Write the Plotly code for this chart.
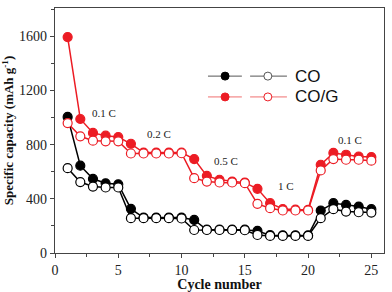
import plotly.graph_objects as go

cycles = list(range(1, 26))

co_charge = [1005, 645, 548, 515, 508, 326, 262, 262, 262, 262,
             244, 172, 172, 172, 172, 163, 132, 130, 130, 130,
             314, 368, 356, 343, 324]
co_discharge = [627, 524, 491, 484, 484, 257, 257, 257, 257, 255,
                170, 170, 170, 170, 168, 133, 126, 126, 126, 126,
                257, 324, 306, 301, 299]
cog_charge = [1595, 990, 887, 867, 857, 807, 742, 742, 742, 742,
              694, 570, 541, 528, 520, 474, 368, 325, 320, 318,
              652, 739, 726, 713, 709]
cog_discharge = [960, 862, 830, 825, 825, 735, 735, 735, 735, 737,
                 553, 528, 521, 521, 516, 363, 331, 314, 314, 314,
                 610, 694, 689, 689, 682]

rate_labels = ["0.1 C", "0.2 C", "0.5 C", "1 C", "0.1 C"]
rate_pos_x = [3.9, 8.2, 13.5, 18.25, 23.3]
rate_pos_y = [1037, 882, 682, 496, 837]

RED = "#ec1c24"
BLACK = "#000000"

fig = go.Figure()

def add(y, color, filled):
    fig.add_trace(go.Scatter(
        x=cycles, y=y, mode="lines+markers",
        line=dict(color=color, width=1.5),
        marker=dict(size=9, symbol="circle",
                    color=color if filled else "white",
                    line=dict(color=color, width=1.2)),
        showlegend=False, hoverinfo="skip"))

add(co_charge, BLACK, True)
add(co_discharge, BLACK, False)
add(cog_charge, RED, True)
add(cog_discharge, RED, False)

serif = "Liberation Serif, Times New Roman, serif"

for t, xx, yy in zip(rate_labels, rate_pos_x, rate_pos_y):
    fig.add_annotation(x=xx, y=yy, text=t, showarrow=False,
                       font=dict(family=serif, size=11, color="#222"))

# manual legend
rows = [("CO", BLACK, "#555555", 0.722), ("CO/G", RED, "#f07070", 0.637)]
for label, col, lcol, yp in rows:
    for x0, x1, xm, filled in [(0.465, 0.568, 0.517, True), (0.593, 0.705, 0.647, False)]:
        fig.add_shape(type="line", xref="paper", yref="paper",
                      x0=x0, x1=x1, y0=yp, y1=yp,
                      line=dict(color=lcol, width=1))
        fig.add_shape(type="circle", xref="paper", yref="paper",
                      xsizemode="pixel", ysizemode="pixel",
                      xanchor=xm, yanchor=yp, x0=-4, x1=4, y0=-4, y1=4,
                      fillcolor=col if filled else "white",
                      line=dict(color=col if filled else ("#555555" if col == BLACK else RED), width=1))
    fig.add_annotation(xref="paper", yref="paper", x=0.722, y=yp,
                       xanchor="left", yanchor="middle", showarrow=False,
                       text=label, font=dict(family="Liberation Sans, Arial, sans-serif",
                                             size=17, color="#111"))

axis_common = dict(
    showline=True, linecolor="#444", linewidth=1.2, mirror=True,
    ticks="outside", ticklen=4, tickcolor="#444", tickwidth=1,
    showgrid=False, zeroline=False, automargin=False,
    tickfont=dict(family=serif, size=14, color="#222"),
)

fig.update_xaxes(range=[0, 26], dtick=5, tick0=0,
                 minor=dict(dtick=2.5, ticks="outside", ticklen=3, tickcolor="#444"),
                 title=dict(text="<b>Cycle number</b>", standoff=0,
                            font=dict(family=serif, size=14, color="#111")),
                 **axis_common)
fig.update_yaxes(range=[0, 1810], dtick=400, tick0=0,
                 minor=dict(dtick=200, ticks="outside", ticklen=3, tickcolor="#444"),
                 title=dict(text="<b>Specific capacity (mAh g<sup>-1</sup>)</b>", standoff=4,
                            font=dict(family=serif, size=13, color="#111")),
                 **axis_common)

fig.update_layout(
    width=392, height=292,
    margin=dict(l=55, r=8, t=8, b=39),
    paper_bgcolor="white", plot_bgcolor="white",
)

fig.write_html("out.html")
